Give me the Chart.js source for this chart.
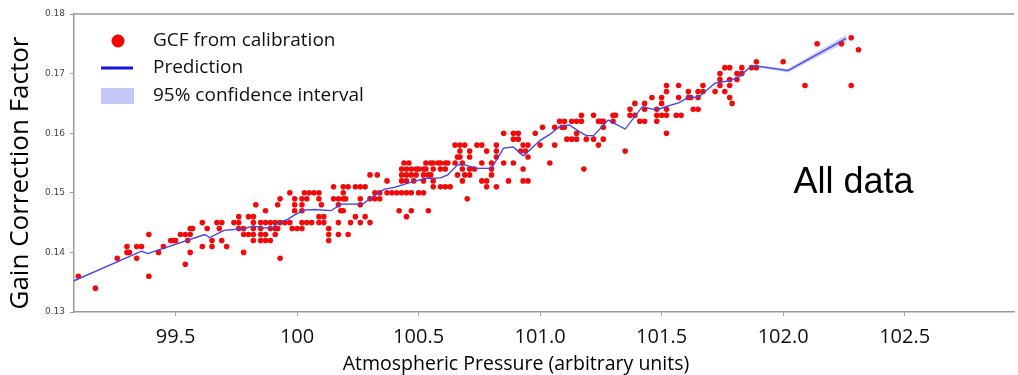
<!DOCTYPE html>
<html>
<head>
<meta charset="utf-8">
<script src="https://cdn.jsdelivr.net/npm/chart.js@4.4.1/dist/chart.umd.min.js"></script>
<style>
  html, body { margin: 0; padding: 0; background: #fff; }
  #wrap { position: relative; width: 1018px; height: 375px; }
</style>
</head>
<body>
<div id="wrap"><canvas id="gcf-chart"></canvas></div>
<script>
// Calibration points, grouped by GCF level (values are quantised to 0.001)
const gcfLevels = [0.176, 0.175, 0.174, 0.172, 0.171, 0.170, 0.169, 0.168, 0.167, 0.166, 0.165, 0.164, 0.163,
  0.162, 0.161, 0.160, 0.159, 0.158, 0.157, 0.156, 0.155, 0.154, 0.153, 0.152, 0.151, 0.150, 0.149,
  0.148, 0.147, 0.146, 0.145, 0.144, 0.143, 0.142, 0.141, 0.140, 0.139, 0.138, 0.136, 0.134];

const pressuresAtLevel = [
  [102.28],
  [102.14, 102.24],
  [102.31],
  [101.89, 102.00],
  [101.76, 101.78, 101.83, 101.87, 101.89],
  [101.74, 101.81, 101.83],
  [101.74, 101.78, 101.81],
  [101.52, 101.57, 101.67, 101.74, 101.78, 102.09, 102.28],
  [101.52, 101.61, 101.65, 101.67, 101.72, 101.76],
  [101.46, 101.50, 101.57, 101.61, 101.62, 101.65, 101.78],
  [101.39, 101.43, 101.50, 101.79],
  [101.37, 101.43, 101.48, 101.52, 101.63, 101.65],
  [101.17, 101.22, 101.30, 101.31, 101.37, 101.39, 101.48, 101.50, 101.52, 101.56, 101.58],
  [101.08, 101.10, 101.13, 101.15, 101.17, 101.24, 101.25, 101.26, 101.30, 101.41, 101.43, 101.48],
  [101.01, 101.06, 101.09, 101.10, 101.26],
  [100.85, 100.89, 100.91, 100.98, 101.15, 101.52],
  [100.89, 100.91, 101.11, 101.13, 101.15, 101.19, 101.22, 101.26],
  [100.65, 100.67, 100.69, 100.74, 100.76, 100.82, 100.93, 100.95, 101.00, 101.06, 101.24],
  [100.67, 100.71, 100.78, 100.82, 100.92, 100.94, 101.35],
  [100.66, 100.67, 100.71, 100.82, 100.95],
  [100.44, 100.46, 100.53, 100.55, 100.56, 100.58, 100.59, 100.61, 100.62, 100.65, 100.68, 100.76, 100.80, 100.85, 100.89, 101.04],
  [100.43, 100.45, 100.47, 100.49, 100.50, 100.52, 100.53, 100.56, 100.59, 100.61, 100.68, 100.71, 100.73, 100.80, 100.93, 101.18],
  [100.30, 100.33, 100.43, 100.45, 100.47, 100.49, 100.52, 100.54, 100.55, 100.66, 100.69, 100.71, 100.80],
  [100.37, 100.43, 100.45, 100.48, 100.52, 100.56, 100.68, 100.76, 100.78, 100.87, 100.93, 100.95],
  [100.15, 100.19, 100.21, 100.24, 100.26, 100.28, 100.56, 100.59, 100.61, 100.63, 100.78, 100.82],
  [99.97, 100.03, 100.05, 100.07, 100.09, 100.19, 100.32, 100.34, 100.37, 100.39, 100.41, 100.43, 100.45, 100.47, 100.50, 100.52],
  [99.93, 99.99, 100.02, 100.04, 100.09, 100.15, 100.17, 100.19, 100.20, 100.26, 100.30, 100.32, 100.34, 100.70],
  [99.83, 99.92, 99.99, 100.02, 100.10, 100.17, 100.26],
  [99.87, 99.99, 100.02, 100.18, 100.19, 100.42, 100.47, 100.54],
  [99.76, 99.80, 99.82, 100.09, 100.11, 100.24, 100.28, 100.45],
  [99.61, 99.67, 99.69, 99.74, 99.76, 99.82, 99.85, 99.87, 99.89, 99.91, 99.93, 99.95, 99.97, 100.02, 100.04, 100.06, 100.09, 100.11, 100.17, 100.22, 100.26, 100.30],
  [99.56, 99.57, 99.63, 99.68, 99.76, 99.78, 99.82, 99.85, 99.89, 99.91, 99.92, 99.98, 100.00, 100.02, 100.13],
  [99.39, 99.52, 99.54, 99.56, 99.78, 99.80, 99.82, 99.85, 99.87, 99.91, 100.13, 100.17, 100.21],
  [99.48, 99.49, 99.50, 99.55, 99.65, 99.69, 99.82, 99.85, 99.87, 99.89, 100.13],
  [99.30, 99.34, 99.36, 99.45, 99.61, 99.65, 99.71],
  [99.30, 99.31, 99.43, 99.56, 99.78],
  [99.26, 99.34, 99.93],
  [99.54],
  [99.10, 99.39],
  [99.17]
];

// Prediction curve and its 95% confidence half-width
const predPressure = [99.08, 99.36, 99.385, 99.62, 99.64, 99.70, 99.78, 99.82, 99.86, 99.90, 99.92, 99.96, 99.99,
  100.03, 100.07, 100.14, 100.18, 100.27, 100.32, 100.36, 100.40, 100.48, 100.53, 100.59, 100.62, 100.66,
  100.69, 100.74, 100.80, 100.85, 100.89, 100.93, 100.95, 101.00, 101.04, 101.08, 101.12, 101.16, 101.19,
  101.22, 101.28, 101.35, 101.42, 101.48, 101.52, 101.57, 101.61, 101.65, 101.72, 101.78, 101.82, 101.87,
  101.90, 102.02, 102.26];
const predGcf = [0.1352, 0.1402, 0.1398, 0.1430, 0.1425, 0.1437, 0.1440, 0.1444, 0.1441, 0.1441, 0.1449, 0.1455, 0.1463,
  0.1471, 0.1472, 0.1470, 0.1481, 0.1481, 0.1496, 0.1506, 0.1509, 0.1519, 0.1524, 0.1525, 0.1530, 0.1547,
  0.1547, 0.1541, 0.1541, 0.1575, 0.1577, 0.1562, 0.1569, 0.1588, 0.1598, 0.1611, 0.1614, 0.1603, 0.1596,
  0.1596, 0.1622, 0.1607, 0.1644, 0.1639, 0.1645, 0.1651, 0.1660, 0.1660, 0.1684, 0.1688, 0.1695, 0.1713,
  0.1712, 0.1705, 0.1759];
const ciHalfWidth = [0.0002, 0.0001, 0.0001, 0.0001, 0.0001, 0.0001, 0.0001, 0.0001, 0.0001, 0.0001, 0.0001, 0.0001, 0.0001,
  0.0001, 0.0001, 0.0001, 0.0001, 0.0001, 0.0001, 0.0001, 0.0001, 0.0001, 0.0001, 0.0001, 0.0001, 0.0001,
  0.0001, 0.0001, 0.0001, 0.0001, 0.0001, 0.0001, 0.0001, 0.0001, 0.0001, 0.0001, 0.0001, 0.0001, 0.0001,
  0.0001, 0.0001, 0.0001, 0.0001, 0.0001, 0.0001, 0.0001, 0.0001, 0.0001, 0.0001, 0.0001, 0.0001, 0.00015,
  0.0002, 0.0003, 0.0006];

const xTicks = [99.5, 100, 100.5, 101, 101.5, 102, 102.5];
const xTickLabels = ['99.5', '100', '100.5', '101.0', '101.5', '102.0', '102.5'];
const yTicks = [0.13, 0.14, 0.15, 0.16, 0.17, 0.18];
const legendLabels = ['GCF from calibration', 'Prediction', '95% confidence interval'];

const AXIS_GREY = '#9a9a9a';

// build the point / line tables from the arrays above
const calPoints = [];
gcfLevels.forEach((g, i) => {
  pressuresAtLevel[i].forEach(p => calPoints.push({ x: p, y: g }));
});
const predLine = predPressure.map((p, i) => ({ x: p, y: predGcf[i] }));
const ciLow = predPressure.map((p, i) => ({ x: p, y: predGcf[i] - ciHalfWidth[i] }));
const ciHigh = predPressure.map((p, i) => ({ x: p, y: predGcf[i] + ciHalfWidth[i] }));

// Legend, axis titles, top spine and the "All data" note
const overlayPlugin = {
  id: 'overlay',
  afterDraw(chart) {
    const { ctx, chartArea, scales } = chart;
    ctx.save();

    ctx.strokeStyle = AXIS_GREY;
    ctx.lineWidth = 1.5;
    ctx.beginPath();
    ctx.moveTo(chartArea.left, chartArea.top);
    ctx.lineTo(chartArea.right, chartArea.top);
    ctx.stroke();

    // legend
    ctx.font = '19px "Open Sans"';
    ctx.fillStyle = '#111';
    ctx.textBaseline = 'middle';
    ctx.textAlign = 'left';
    const rows = [41, 68, 96];
    legendLabels.forEach((txt, i) => ctx.fillText(txt, 153, rows[i]));

    ctx.fillStyle = '#ff0000';
    ctx.beginPath();
    ctx.arc(118, rows[0], 6.5, 0, Math.PI * 2);
    ctx.fill();

    ctx.strokeStyle = '#1515e6';
    ctx.lineWidth = 3;
    ctx.beginPath();
    ctx.moveTo(101, rows[1]);
    ctx.lineTo(133, rows[1]);
    ctx.stroke();

    ctx.fillStyle = '#c6c6f7';
    ctx.fillRect(101, rows[2] - 8, 33, 16);

    // "All data"
    ctx.fillStyle = '#000';
    ctx.font = '36px "Liberation Sans"';
    ctx.textAlign = 'center';
    ctx.fillText('All data', scales.x.getPixelForValue(102.29), scales.y.getPixelForValue(0.1516));

    // x title
    ctx.font = '19.5px "Open Sans"';
    ctx.fillText('Atmospheric Pressure (arbitrary units)', 516, 364);

    // y title
    ctx.translate(21, 173);
    ctx.rotate(-Math.PI / 2);
    ctx.font = '26px "Open Sans"';
    ctx.fillText('Gain Correction Factor', 0, 0);

    ctx.restore();
  }
};

new Chart(document.getElementById('gcf-chart'), {
  type: 'scatter',
  data: {
    datasets: [
      {
        type: 'line',
        label: 'ci-low',
        data: ciLow,
        borderWidth: 0,
        pointRadius: 0,
        fill: false,
        order: 3
      },
      {
        type: 'line',
        label: legendLabels[2],
        data: ciHigh,
        borderWidth: 0,
        pointRadius: 0,
        backgroundColor: 'rgba(110, 110, 240, 0.35)',
        fill: '-1',
        order: 3
      },
      {
        type: 'line',
        label: legendLabels[1],
        data: predLine,
        borderColor: '#4646e0',
        borderWidth: 1.3,
        pointRadius: 0,
        fill: false,
        tension: 0,
        order: 0
      },
      {
        label: legendLabels[0],
        data: calPoints,
        backgroundColor: '#f20a0a',
        borderWidth: 0,
        pointRadius: 2.8,
        order: 1
      }
    ]
  },
  options: {
    responsive: true,
    maintainAspectRatio: false,
    animation: false,
    layout: { padding: { top: 14, right: 0, bottom: 0, left: 0 } },
    plugins: {
      legend: { display: false },
      tooltip: { enabled: false }
    },
    scales: {
      x: {
        type: 'linear',
        min: 99.082,
        max: 102.95,
        afterBuildTicks: (scale) => { scale.ticks = xTicks.map(v => ({ value: v })); },
        afterFit: (scale) => { scale.height = 63; },
        grid: { display: true, drawOnChartArea: false, drawTicks: true, tickLength: 4, color: AXIS_GREY },
        border: { display: true, color: AXIS_GREY, width: 1.5 },
        ticks: {
          padding: 9,
          color: '#111',
          maxRotation: 0,
          font: { family: 'Open Sans', size: 20 },
          callback: (v) => xTickLabels[xTicks.indexOf(v)]
        }
      },
      y: {
        type: 'linear',
        min: 0.13,
        max: 0.18,
        afterBuildTicks: (scale) => { scale.ticks = yTicks.map(v => ({ value: v })); },
        afterFit: (scale) => { scale.width = 74; },
        grid: { display: true, drawOnChartArea: false, drawTicks: true, tickLength: 4, color: AXIS_GREY },
        border: { display: true, color: AXIS_GREY, width: 1.5 },
        ticks: {
          padding: 5,
          color: '#444',
          font: { family: 'DejaVu Sans', size: 9 },
          callback: (v) => v.toFixed(2)
        }
      }
    }
  },
  plugins: [overlayPlugin]
});
</script>
</body>
</html>
